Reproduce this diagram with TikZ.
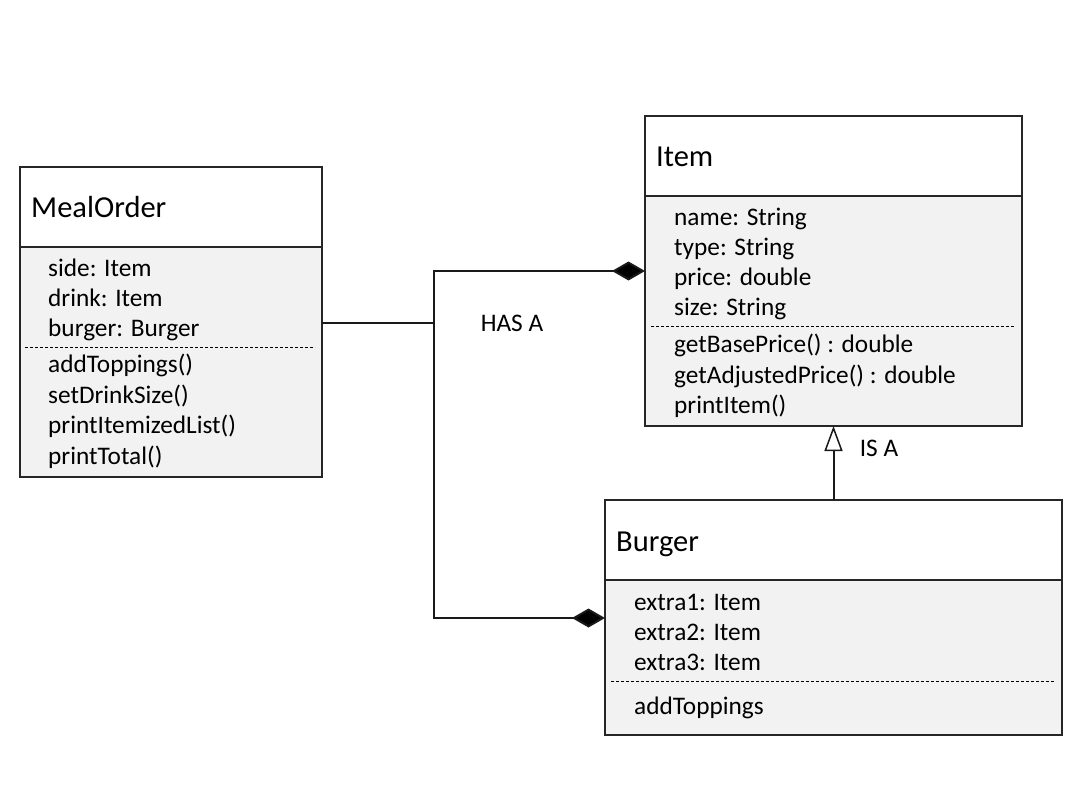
\documentclass[tikz,border=0pt]{standalone}
\usepackage{fontspec}
\setmainfont{Carlito}
\usetikzlibrary{arrows.meta}
\begin{document}
\begin{tikzpicture}[x=1pt,y=-1pt,
  box/.style={draw=black!85,line width=1.5pt,inner sep=0pt,outer sep=0pt,anchor=north west},
  hdr/.style={box,fill=white},
  bdy/.style={box,fill=black!5},
  title/.style={anchor=base west,inner sep=0pt,font=\fontsize{30.5}{34}\selectfont},
  attr/.style={anchor=base west,inner sep=0pt,font=\fontsize{25.3}{30}\selectfont},
  sep/.style={line width=1pt,dash pattern=on 3pt off 2pt},
  conn/.style={line width=2pt,black!90},
  comp/.style={conn,-{Diamond[fill=black,length=33pt,width=19pt]}},
  isa/.style={conn,-{Triangle[open,fill=white,length=25pt,width=18pt,line width=1.5pt]}},
  lbl/.style={inner sep=0pt,font=\fontsize{25.3}{28}\selectfont}]
\useasboundingbox (0,0) rectangle (1086,792);
% MealOrder
\node[hdr,minimum width=302pt,minimum height=80pt] (moh) at (20,167) {};
\node[bdy,minimum width=302pt,minimum height=230pt] (mob) at (20,247) {};
\node[title] (mot) at (31,217) {MealOrder};
\node[attr] (mo1) at (48,276) {side: Item};
\node[attr] (mo2) at (48,306) {drink: Item};
\node[attr] (mo3) at (48,336) {burger: Burger};
\coordinate (mos1) at (25,347);
\coordinate (mos2) at (315,347);
\draw[sep] (mos1) -- (mos2);
\node[attr] (mo4) at (48,372) {addToppings()};
\node[attr] (mo5) at (48,403) {setDrinkSize()};
\node[attr] (mo6) at (48,433) {printItemizedList()};
\node[attr] (mo7) at (48,464) {printTotal()};
% Item
\node[hdr,minimum width=377pt,minimum height=80pt] (ith) at (645,116) {};
\node[bdy,minimum width=377pt,minimum height=230pt] (itb) at (645,196) {};
\node[title] (itt) at (656,166) {Item};
\node[attr] (it1) at (674,225) {name: String};
\node[attr] (it2) at (674,255) {type: String};
\node[attr] (it3) at (674,285) {price: double};
\node[attr] (it4) at (674,315) {size: String};
\coordinate (its1) at (651,326);
\coordinate (its2) at (1015,326);
\draw[sep] (its1) -- (its2);
\node[attr] (it5) at (674,352) {getBasePrice() : double};
\node[attr] (it6) at (674,383) {getAdjustedPrice() : double};
\node[attr] (it7) at (674,413) {printItem()};
% Burger
\node[hdr,minimum width=457pt,minimum height=80pt] (bgh) at (605,500) {};
\node[bdy,minimum width=457pt,minimum height=155pt] (bgb) at (605,580) {};
\node[title] (bgt) at (616,551) {Burger};
\node[attr] (bg1) at (634,610) {extra1: Item};
\node[attr] (bg2) at (634,640) {extra2: Item};
\node[attr] (bg3) at (634,670) {extra3: Item};
\coordinate (bgs1) at (611,681);
\coordinate (bgs2) at (1055,681);
\draw[sep] (bgs1) -- (bgs2);
\node[attr] (bg4) at (634,714) {addToppings};
% connectors
\coordinate (jm) at (434,323);
\coordinate (jt) at (434,271);
\coordinate (jb) at (434,618);
\draw[conn] (mob.east |- jm) -- (jm);
\draw[conn,line cap=rect] (jt) -- (jb);
\draw[comp] (jt) -- (itb.west |- jt);
\draw[comp] (jb) -- (bgb.west |- jb);
\draw[isa] (bgh.north) -- (itb.south);
\node[lbl] (has) at (512,323) {HAS A};
\node[lbl] (isal) at (879,448) {IS A};
\end{tikzpicture}
\end{document}
